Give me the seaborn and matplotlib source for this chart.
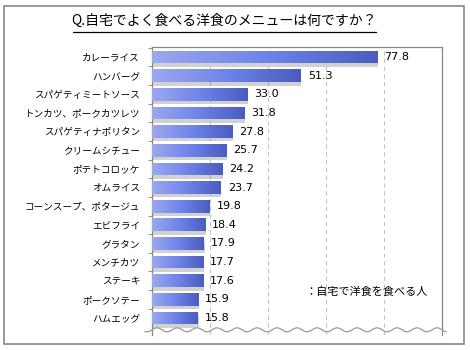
import numpy as np
import matplotlib
matplotlib.use("Agg")
import matplotlib.pyplot as plt
import seaborn as sns
import pandas as pd
from matplotlib import patheffects as pe
from matplotlib.colors import LinearSegmentedColormap
from matplotlib.ticker import FixedLocator

categories = ["カレーライス", "ハンバーグ", "スパゲティミートソース", "トンカツ、ポークカツレツ",
              "スパゲティナポリタン", "クリームシチュー", "ポテトコロッケ", "オムライス",
              "コーンスープ、ポタージュ", "エビフライ", "グラタン", "メンチカツ", "ステーキ",
              "ポークソテー", "ハムエッグ"]
values = [77.8, 51.3, 33.0, 31.8, 27.8, 25.7, 24.2, 23.7, 19.8, 18.4, 17.9, 17.7, 17.6, 15.9, 15.8]
title = "Q.自宅でよく食べる洋食のメニューは何ですか？"
legend_label = "：自宅で洋食を食べる人"

sns.set_theme(style="white")
plt.rcParams['font.family'] = ['Noto Sans CJK JP', 'DejaVu Sans']

df = pd.DataFrame({"item": categories, "value": values})

fig = plt.figure(figsize=(4.7, 3.5), dpi=100)
ax = fig.add_axes([152/470, 1-335/350, 290/470, 288/350])

sns.barplot(data=df, x="value", y="item", orient="h", width=0.68, color="#6b80e6",
            linewidth=0, ax=ax, zorder=3)

cmap = LinearSegmentedColormap.from_list("g", ["#9ca8ef", "#6e84e8", "#4a5cc0"])
grad = np.linspace(0, 1, 256).reshape(1, -1)
for p in ax.patches:
    p.set_path_effects([pe.SimplePatchShadow(offset=(0.5, -2.5), shadow_rgbFace="#9a9a9a", alpha=0.45),
                        pe.Normal()])
    x0, y0 = p.get_x(), p.get_y()
    w, h = p.get_width(), p.get_height()
    im = ax.imshow(grad, extent=[x0, x0 + w, y0 + h, y0], cmap=cmap, aspect="auto", zorder=4)
    im.set_clip_path(p)

for i, v in enumerate(values):
    ax.text(v + 2.4, i, f"{v:.1f}", va="center", ha="left", fontsize=8,
            family="DejaVu Sans", color="#000000", zorder=5)

ax.set_xlim(0, 100)
ax.set_ylim(14.91, -0.54)
ax.set_xlabel("")
ax.set_ylabel("")
ax.set_xticks([])
for gx in [20, 40, 60, 80]:
    ax.axvline(gx, color="#c4c4c4", lw=0.8, ls=(0, (4, 3)), zorder=1)

ax.tick_params(axis="y", which="major", length=0, pad=8.5, labelsize=6.9, labelcolor="#000000")
ax.yaxis.set_minor_locator(FixedLocator([i + 0.5 for i in range(-1, 14)]))
ax.tick_params(axis="y", which="minor", length=3, width=0.8, color="#999999", left=True)

for s in ["left", "right", "top"]:
    ax.spines[s].set_color("#888888")
    ax.spines[s].set_linewidth(0.9)
ax.spines["bottom"].set_visible(False)

# wavy break line
wx = np.linspace(-0.025, 1.015, 400)
wy = 0.018 + 0.007 * np.sin(wx * 2 * np.pi * 14.5)
ax.plot(wx, wy, transform=ax.transAxes, color="#999999", lw=0.9, clip_on=False, zorder=6)

fig.text(224/470, 1-21/350, title, ha="center", va="center", fontsize=10, color="#000000")
fig.add_artist(plt.Line2D([73/470, 376/470], [1-31.5/350, 1-31.5/350], color="#000000", lw=0.9))
fig.text(305/470, 1-292/350, legend_label, ha="left", va="center", fontsize=8, color="#000000")

fig.add_artist(plt.Rectangle((4/470, 1-344/350), 460/470, 338/350, fill=False,
                             edgecolor="#888888", lw=1.2, transform=fig.transFigure))

fig.savefig("out.png", dpi=100)
